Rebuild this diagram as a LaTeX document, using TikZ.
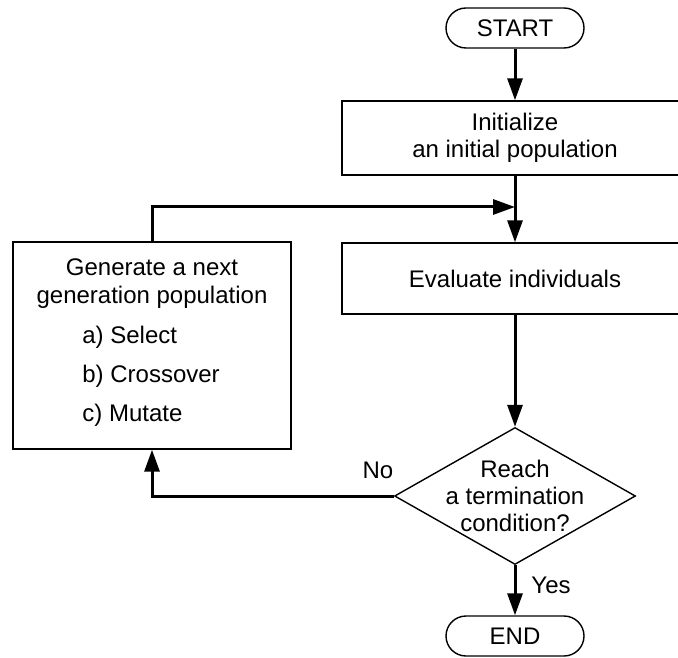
\documentclass[tikz,border=0pt]{standalone}
\usepackage{fontspec}
\setmainfont{Liberation Sans}
\usetikzlibrary{arrows.meta,shapes.geometric}
\begin{document}
\begin{tikzpicture}[x=0.5pt,y=-0.5pt,
  every node/.style={font=\fontsize{12}{13.5}\selectfont},
  term/.style={draw,line width=0.7pt,rounded corners=10pt,minimum width=69pt,minimum height=20pt,inner sep=0pt},
  proc/.style={draw,line width=0.7pt,minimum width=173pt,inner sep=0pt,align=center},
  dec/.style={draw,diamond,line width=0.7pt,minimum width=120.5pt,minimum height=68.5pt,inner sep=0pt},
  flow/.style={line width=1.5pt,-{Triangle[length=11pt,width=7.5pt]}},
  link/.style={line width=1.5pt},
  lbl/.style={inner sep=0pt}]
\clip (0,0) rectangle (678,657);
\node[term] (start) at (515,28) {START};
\node[proc,minimum height=37pt] (init) at (515,138) {Initialize\\an initial population};
\node[proc,minimum height=35.5pt] (eval) at (515,278.5) {Evaluate individuals};
\node[dec] (dia) at (515,496) {};
\node[lbl,align=center] (diatext) at (515,496) {Reach\\a termination\\condition?};
\node[term] (end) at (515,636) {END};
\node[draw,line width=0.7pt,minimum width=139pt,minimum height=103.5pt,inner sep=0pt] (gen) at (152,345.5) {};
\node[lbl,align=center,font=\fontsize{12}{14}\selectfont] (gentitle) at (152,284) {Generate a next\\generation population};
\node[lbl,align=left,anchor=west,font=\fontsize{12}{19.5}\selectfont] (genlist) at (82,376) {a) Select\\b) Crossover\\c) Mutate};
\coordinate (join) at (515,207);
\node[lbl] (no) at (378,470) {No};
\node[lbl] (yes) at (551,585) {Yes};
\draw[flow] (start) -- (init);
\draw[flow] (init) -- (eval);
\draw[flow] (eval) -- (dia.north);
\draw[flow] (dia.south) -- (end);
\draw[flow] (gen.north) |- (join);
\draw[flow] (dia.west) -| (gen.south);
\end{tikzpicture}
\end{document}
